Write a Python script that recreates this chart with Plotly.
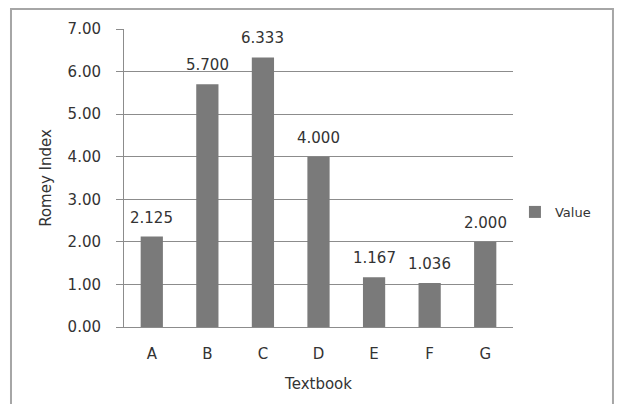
import plotly.graph_objects as go

categories = ["A", "B", "C", "D", "E", "F", "G"]
values = [2.125, 5.700, 6.333, 4.000, 1.167, 1.036, 2.000]
value_labels = ["2.125", "5.700", "6.333", "4.000", "1.167", "1.036", "2.000"]
y_ticks = [0, 1, 2, 3, 4, 5, 6, 7]
y_tick_labels = ["0.00", "1.00", "2.00", "3.00", "4.00", "5.00", "6.00", "7.00"]

FONT = "DejaVu Sans"
TXT = "#333333"
GRID = "#8c8c8c"

fig = go.Figure()
fig.add_trace(go.Bar(
    x=categories, y=values, name="Value",
    marker=dict(color="#7a7a7a", line=dict(width=0)),
    showlegend=True,
))

for c, v, t in zip(categories, values, value_labels):
    fig.add_annotation(x=c, y=v, text=t, showarrow=False, yanchor="bottom",
                       yshift=8, font=dict(family=FONT, size=15, color=TXT))

fig.add_shape(type="rect", xref="paper", yref="paper",
              x0=-0.2905, x1=1.257, y0=-0.30, y1=1.067,
              line=dict(color="#a6a6a6", width=2), fillcolor="rgba(0,0,0,0)",
              layer="above")

fig.update_layout(
    width=618, height=404,
    margin=dict(l=124, r=105, t=29, b=77),
    paper_bgcolor="white", plot_bgcolor="white",
    bargap=0.6,
    font=dict(family=FONT, size=15, color=TXT),
    legend=dict(x=1.005, y=0.386, xanchor="left", yanchor="middle",
                font=dict(family=FONT, size=13, color=TXT),
                itemwidth=30, bgcolor="rgba(0,0,0,0)"),
    xaxis=dict(
        title=dict(text="Textbook", standoff=16, font=dict(size=15)),
        showgrid=False, showline=True, linecolor=GRID, linewidth=1,
        ticks="", ticklabelstandoff=13, tickfont=dict(size=15),
        zeroline=False,
    ),
    yaxis=dict(
        title=dict(text="Romey Index", standoff=12, font=dict(size=15)),
        range=[0, 7], tickvals=y_ticks, ticktext=y_tick_labels,
        showgrid=True, gridcolor=GRID, gridwidth=1,
        showline=True, linecolor=GRID, linewidth=1,
        ticks="outside", ticklen=7, tickcolor=GRID,
        ticklabelstandoff=12, tickfont=dict(size=15),
        zeroline=False,
    ),
)

fig.write_html("out.html", config={"displayModeBar": False},
               post_script="document.body.style.margin='0px';document.body.style.overflow='hidden';")
